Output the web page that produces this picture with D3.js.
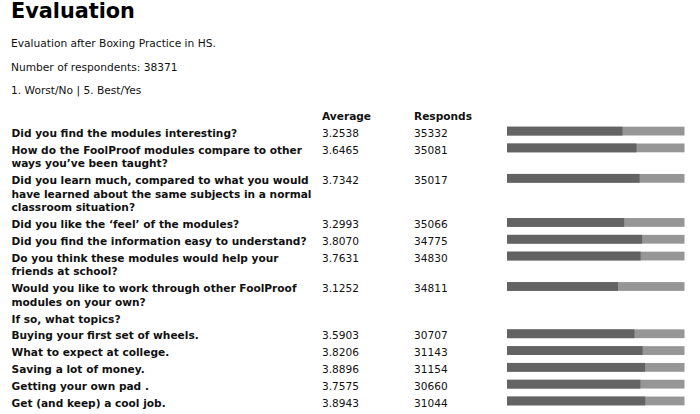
<!DOCTYPE html>
<html><head><meta charset="utf-8">
<script src="https://cdn.jsdelivr.net/npm/d3@7"></script>
<style>body{margin:0;background:#fff}svg{display:block}text{font-family:"DejaVu Sans",Verdana,sans-serif}</style>
</head><body><div id="chart"></div>
<script>
const title = "Evaluation";
const subtitles = ["Evaluation after Boxing Practice in HS.", "Number of respondents: 38371", "1. Worst/No | 5. Best/Yes"];
const columns = ["Average", "Responds"];
const questions = [
  ["Did you find the modules interesting?"],
  ["How do the FoolProof modules compare to other", "ways you\u2019ve been taught?"],
  ["Did you learn much, compared to what you would", "have learned about the same subjects in a normal", "classroom situation?"],
  ["Did you like the \u2018feel\u2019 of the modules?"],
  ["Did you find the information easy to understand?"],
  ["Do you think these modules would help your", "friends at school?"],
  ["Would you like to work through other FoolProof", "modules on your own?"],
  ["If so, what topics?"],
  ["Buying your first set of wheels."],
  ["What to expect at college."],
  ["Saving a lot of money."],
  ["Getting your own pad ."],
  ["Get (and keep) a cool job."]
];
const averages = ["3.2538","3.6465","3.7342","3.2993","3.8070","3.7631","3.1252",null,"3.5903","3.8206","3.8896","3.7575","3.8943"];
const responds = [35332,35081,35017,35066,34775,34830,34811,null,30707,31143,31154,30660,31044];
const scaleMax = 5;

const W = 700, H = 414;
const svg = d3.select("#chart").append("svg").attr("width", W).attr("height", H);
svg.append("rect").attr("width", W).attr("height", H).attr("fill", "#fff");

svg.append("text").attr("x", 11).attr("y", 17.5).attr("font-size", 20.8).attr("font-weight", "bold").attr("fill", "#000").text(title);
svg.selectAll("text.sub").data(subtitles).join("text").attr("class","sub")
  .attr("x", 11).attr("y", (d,i) => 47 + i*23.5).attr("font-size", 10.65).attr("fill", "#111").text(d => d);

const colX = [322, 414];
svg.selectAll("text.hdr").data(columns).join("text").attr("class","hdr")
  .attr("x", (d,i) => colX[i]).attr("y", 120).attr("font-size", 10.6).attr("font-weight","bold").attr("fill","#111").text(d => d);

const lineH = 13.65, rowPad = 3.15;
let tops = [], y = 127;
questions.forEach(q => { tops.push(y); y += q.length*lineH + rowPad; });

const x = d3.scaleLinear().domain([0, scaleMax]).range([507, 684.5]);
const barH = 8.8;

const rows = svg.selectAll("g.row").data(questions.map((q,i)=>({q, avg: averages[i], resp: responds[i], top: tops[i]})))
  .join("g").attr("class","row");

rows.each(function(d){
  const g = d3.select(this);
  g.selectAll("text.q").data(d.q).join("text").attr("class","q")
    .attr("x", 11.5).attr("y", (l,k) => d.top + 9.7 + k*lineH)
    .attr("font-size", 10.6).attr("font-weight","bold").attr("fill","#111").text(l => l);
  if (d.avg !== null) {
    g.append("text").attr("x", colX[0]).attr("y", d.top + 9.7).attr("font-size", 10.6).attr("fill","#111").text(d.avg);
    g.append("text").attr("x", colX[1]).attr("y", d.top + 9.7).attr("font-size", 10.6).attr("fill","#111").text(d.resp);
    g.append("rect").attr("x", x(0)).attr("y", d.top - 0.3).attr("width", x(scaleMax)-x(0)).attr("height", barH).attr("fill", "#969696");
    g.append("rect").attr("x", x(0)).attr("y", d.top - 0.3).attr("width", x(+d.avg)-x(0)).attr("height", barH).attr("fill", "#636363");
  }
});
</script></body></html>
